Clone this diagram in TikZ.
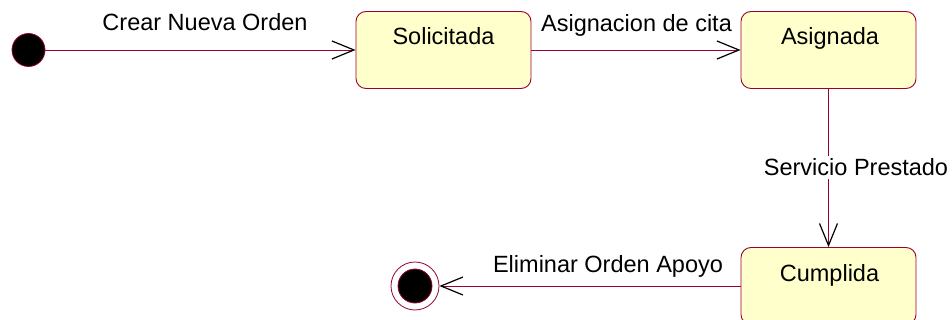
\documentclass[tikz,border=0pt]{standalone}
\usepackage{fontspec}
\setmainfont{Liberation Sans}
\usetikzlibrary{arrows.meta}
\definecolor{edgecol}{RGB}{153,0,51}
\definecolor{statefill}{RGB}{255,255,204}
\begin{document}
\begin{tikzpicture}[x=1pt,y=-1pt,
  statebox/.style={draw=edgecol, fill=statefill, rounded corners=10pt, minimum width=175pt, minimum height=77pt, line width=0.9pt, inner sep=0pt},
  nametext/.style={anchor=base, font=\fontsize{23.5}{28}\selectfont, inner sep=0pt},
  lbl/.style={anchor=base, font=\fontsize{23.5}{28}\selectfont, inner sep=0pt},
  trans/.style={draw=edgecol, line width=0.9pt, -{Straight Barb[length=22pt,width=18pt,color=black,line width=1.2pt]}},
  pseudo/.style={circle, draw=edgecol, line width=0.8pt, inner sep=0pt},
]
\useasboundingbox (0,0) rectangle (952,320);
\begin{scope}
\clip (0,0) rectangle (952,320);
% states
\node (sol) [statebox] at (443.5,50) {};
\node (asg) [statebox] at (828.5,50) {};
\node (cum) [statebox] at (828.5,286) {};
\node (soltxt) [nametext] at (443.5,45) {Solicitada};
\node (asgtxt) [nametext] at (830,45) {Asignada};
\node (cumtxt) [nametext] at (829.5,281) {Cumplida};
% pseudo states
\node (init) [pseudo, fill=black, minimum size=33pt] at (28.5,50) {};
\node (fin) [pseudo, fill=white, minimum size=48pt] at (415,286) {};
\node (finin) [pseudo, fill=black, minimum size=34pt] at (fin.center) {};
% transitions
\draw[trans] (init.east) -- (sol.west);
\draw[trans] (sol.east) -- (asg.west);
\draw[trans] (asg.south) -- (cum.north);
\draw[trans] (cum.west) -- (fin.east);
% labels
\node (l1) [lbl] at (205,31) {Crear Nueva Orden};
\node (l2) [lbl] at (636.5,32) {Asignacion de cita};
\node (l3) [lbl, fill=white, inner sep=3pt] at (856,176) {Servicio Prestado};
\node (l4) [lbl] at (608,272) {Eliminar Orden Apoyo};
\end{scope}
\end{tikzpicture}
\end{document}
